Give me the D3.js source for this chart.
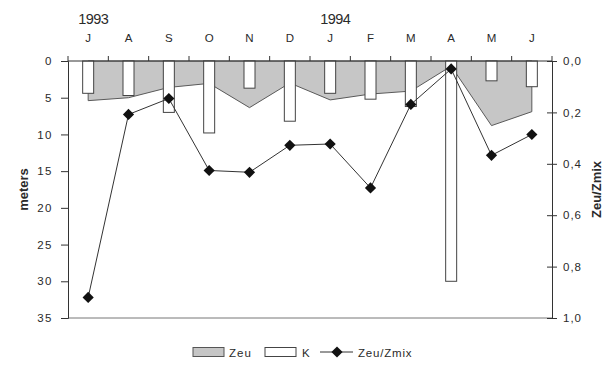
<!DOCTYPE html>
<html>
<head>
<meta charset="utf-8">
<script src="https://cdn.jsdelivr.net/npm/d3@7"></script>
<style>
  body { margin: 0; background: #fff; }
  text { font-family: "Liberation Sans", Arial, sans-serif; fill: #2a2a2a; }
</style>
</head>
<body>
<script>
// months Jul 1993 - Jun 1994
const months = ["J", "A", "S", "O", "N", "D", "J", "F", "M", "A", "M", "J"];
const years = [{ label: "1993", at: 0 }, { label: "1994", at: 6 }];
// K (m), euphotic depth Zeu (m), Zeu/Zmix ratio
const kValues = [4.4, 4.7, 7.0, 9.8, 3.7, 8.2, 4.4, 5.2, 6.2, 30.0, 2.7, 3.5];
const zeuValues = [5.4, 5.0, 3.6, 3.05, 6.35, 3.0, 5.3, 4.5, 4.1, 0.7, 8.8, 6.9];
const ratioValues = [0.92, 0.208, 0.146, 0.426, 0.433, 0.328, 0.323, 0.494, 0.169, 0.031, 0.367, 0.286];
const leftTicks = [0, 5, 10, 15, 20, 25, 30, 35];
const rightTicks = [0, 0.2, 0.4, 0.6, 0.8, 1.0];

const width = 610;
const height = 369;
const margin = { top: 61, right: 58, bottom: 51, left: 68 };

const svg = d3.select("body")
    .append("svg")
    .attr("width", width)
    .attr("height", height);

const x = d3.scaleBand()
    .domain(d3.range(months.length))
    .range([margin.left, width - margin.right])
    .padding(0);

const y = d3.scaleLinear()
    .domain([0, 35])
    .range([margin.top, height - margin.bottom]);

const y2 = d3.scaleLinear()
    .domain([0, 1])
    .range([margin.top, height - margin.bottom]);

const cx = i => x(i) + x.bandwidth() / 2;
const barW = 11;

// Zeu area (grey, hanging from the top)
const area = d3.area()
    .x((d, i) => cx(i))
    .y0(y(0))
    .y1(d => y(d));

svg.append("path")
    .datum(zeuValues)
    .attr("d", area)
    .attr("fill", "#c6c6c6")
    .attr("stroke", "#5a5a5a")
    .attr("stroke-width", 1);

// K bars
svg.selectAll(".kbar")
    .data(kValues)
    .enter()
    .append("rect")
    .attr("class", "kbar")
    .attr("x", (d, i) => cx(i) - barW / 2)
    .attr("y", y(0))
    .attr("width", barW)
    .attr("height", d => y(d) - y(0))
    .attr("fill", "#fff")
    .attr("stroke", "#444")
    .attr("stroke-width", 1);

// axes frame
const axisColor = "#333";
svg.append("line")
    .attr("x1", margin.left).attr("x2", width - margin.right)
    .attr("y1", y(0)).attr("y2", y(0))
    .attr("stroke", axisColor);
svg.append("line")
    .attr("x1", margin.left).attr("x2", width - margin.right)
    .attr("y1", y(35)).attr("y2", y(35))
    .attr("stroke", "#777");

// top ticks at category boundaries
svg.selectAll(".ttick")
    .data(d3.range(months.length + 1))
    .enter()
    .append("line")
    .attr("x1", i => margin.left + i * x.step())
    .attr("x2", i => margin.left + i * x.step())
    .attr("y1", y(0) - 5)
    .attr("y2", y(0))
    .attr("stroke", axisColor);

// left axis
const leftAxis = d3.axisLeft(y)
    .tickValues(leftTicks)
    .tickSize(7)
    .tickPadding(8);
const gl = svg.append("g")
    .attr("transform", `translate(${margin.left},0)`)
    .call(leftAxis);
gl.select(".domain").attr("stroke", axisColor);
gl.selectAll(".tick line").attr("stroke", axisColor);
gl.selectAll(".tick text")
    .attr("font-size", 11.5)
    .attr("letter-spacing", "1.5px")
    .attr("fill", "#2a2a2a");

// right axis, ticks crossing the line
const rightAxis = d3.axisRight(y2)
    .tickValues(rightTicks)
    .tickSize(5)
    .tickPadding(6)
    .tickFormat(d => d3.format(".1f")(d).replace(".", ","));
const gr = svg.append("g")
    .attr("transform", `translate(${width - margin.right},0)`)
    .call(rightAxis);
gr.select(".domain").attr("stroke", axisColor);
gr.selectAll(".tick line").attr("x1", -5).attr("stroke", axisColor);
gr.selectAll(".tick text")
    .attr("font-size", 11.5)
    .attr("letter-spacing", "1px")
    .attr("fill", "#2a2a2a");

// month labels and years
svg.selectAll(".month")
    .data(months)
    .enter()
    .append("text")
    .attr("x", (d, i) => cx(i))
    .attr("y", 42)
    .attr("text-anchor", "middle")
    .attr("font-size", 11.5)
    .text(d => d);

svg.selectAll(".year")
    .data(years)
    .enter()
    .append("text")
    .attr("x", d => cx(d.at) - 10)
    .attr("y", 24)
    .attr("font-size", 14.5)
    .attr("letter-spacing", "-0.5px")
    .text(d => d.label);

// axis titles
svg.append("text")
    .attr("transform", `translate(28,${(y(0) + y(35)) / 2}) rotate(-90)`)
    .attr("text-anchor", "middle")
    .attr("font-size", 13)
    .attr("font-weight", "bold")
    .text("meters");

svg.append("text")
    .attr("transform", `translate(601,${(y(0) + y(35)) / 2}) rotate(-90)`)
    .attr("text-anchor", "middle")
    .attr("font-size", 13)
    .attr("font-weight", "bold")
    .text("Zeu/Zmix");

// Zeu/Zmix line with diamonds
const line = d3.line()
    .x((d, i) => cx(i))
    .y(d => y2(d));

svg.append("path")
    .datum(ratioValues)
    .attr("d", line)
    .attr("fill", "none")
    .attr("stroke", "#333")
    .attr("stroke-width", 1);

const diamond = d3.symbol().type(d3.symbolDiamond2).size(80);
svg.selectAll(".pt")
    .data(ratioValues)
    .enter()
    .append("path")
    .attr("class", "pt")
    .attr("d", diamond)
    .attr("transform", (d, i) => `translate(${cx(i)},${y2(d)})`)
    .attr("fill", "#111");

// legend
const lg = svg.append("g").attr("transform", "translate(0,352)");
lg.append("rect")
    .attr("x", 193).attr("y", -4.5).attr("width", 31).attr("height", 9)
    .attr("fill", "#c6c6c6").attr("stroke", "#555");
lg.append("text")
    .attr("x", 229).attr("y", 4.5).attr("font-size", 11.5)
    .attr("letter-spacing", "1px").text("Zeu");
lg.append("rect")
    .attr("x", 265).attr("y", -4.5).attr("width", 31).attr("height", 9)
    .attr("fill", "#fff").attr("stroke", "#444");
lg.append("text")
    .attr("x", 302).attr("y", 4.5).attr("font-size", 11.5).text("K");
lg.append("line")
    .attr("x1", 320).attr("x2", 353).attr("y1", 0).attr("y2", 0)
    .attr("stroke", "#333");
lg.append("path")
    .attr("d", diamond)
    .attr("transform", "translate(337,0)")
    .attr("fill", "#111");
lg.append("text")
    .attr("x", 358).attr("y", 4.5).attr("font-size", 11.5)
    .attr("letter-spacing", "0.8px").text("Zeu/Zmix");
</script>
</body>
</html>
